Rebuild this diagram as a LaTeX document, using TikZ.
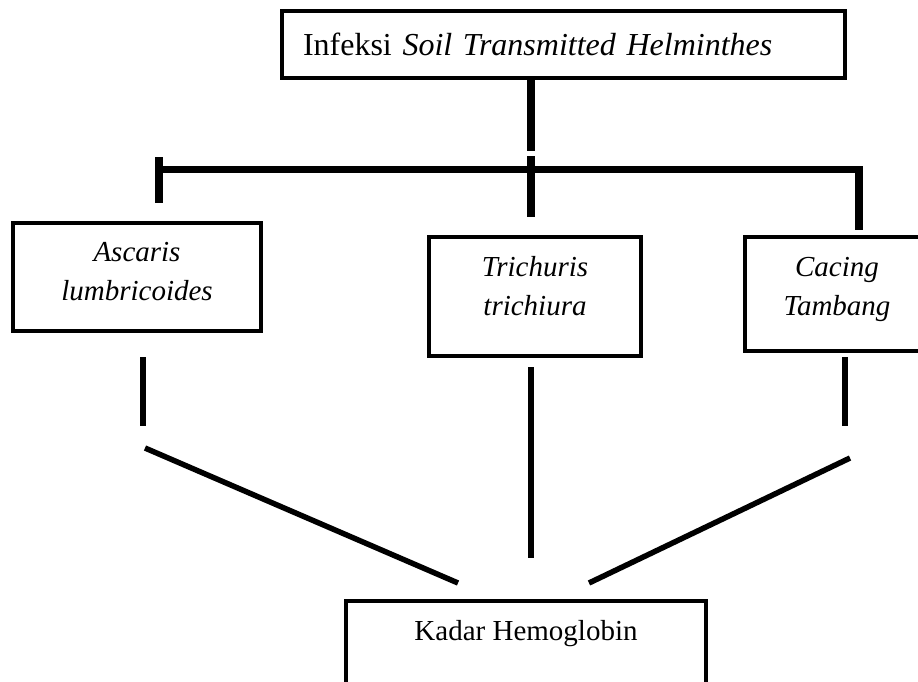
\documentclass[tikz,border=0pt]{standalone}
\usepackage{fontspec}
\setmainfont{Liberation Serif}
\usetikzlibrary{positioning}

\begin{document}
\begin{tikzpicture}[x=1pt,y=-1pt]
       \tikzstyle{box}=[draw, line width=4.5pt, inner sep=0pt, anchor=base, align=center,
                        font=\fontsize{29}{38.5}\selectfont\itshape]
       \tikzstyle{trunk}=[line width=7.5pt]
       \tikzstyle{branch}=[line width=5.5pt]

       \useasboundingbox (0,0) rectangle (918,681);
       \clip (0,0) rectangle (918,681);

       % base = baseline of the last text line
       \node[box, text width=521pt, inner xsep=21pt, align=left, text height=44pt, text depth=23pt,
             font=\fontsize{32}{38}\selectfont] (infeksi) at (563.5,55) {Infeksi \textit{Soil Transmitted Helminthes}};
       \node[box, minimum width=248pt, text height=77pt, text depth=31pt] (ascaris)   at (137,300) {Ascaris\\lumbricoides};
       \node[box, minimum width=212pt, text height=78pt, text depth=41pt] (trichuris) at (535,315) {Trichuris\\trichiura};
       \node[box, minimum width=184pt, text height=78pt, text depth=36pt] (cacing)    at (837,315) {Cacing\\Tambang};
       \node[box, minimum width=360pt, text height=39pt, text depth=70pt, font=\fontsize{29}{38.5}\selectfont]
             (kadar) at (526,640) {Kadar Hemoglobin};

       % free ends of the connectors
       \coordinate (stem_a) at (531,151);
       \coordinate (stem_b) at (531,156);
       \coordinate (stem_c) at (531,217);
       \coordinate (bar_l)  at (159,169.5);
       \coordinate (bar_r)  at (859,169.5);
       \coordinate (tick_t) at (159,157);
       \coordinate (tick_b) at (159,203);
       \coordinate (drop_r) at (859,230);
       \coordinate (asc_t)  at (143,357);
       \coordinate (asc_b)  at (143,426);
       \coordinate (tri_t)  at (531,367);
       \coordinate (tri_b)  at (531,558);
       \coordinate (cac_t)  at (845,357);
       \coordinate (cac_b)  at (845,426);
       \coordinate (diag_l) at (145,448);
       \coordinate (end_l)  at (458,583);
       \coordinate (diag_r) at (850,458);
       \coordinate (end_r)  at (589,583);

       \draw[trunk] (infeksi.south -| stem_a) -- (stem_a);
       \draw[trunk] (stem_b) -- (stem_c);
       \draw[trunk] (bar_l) -- (bar_r) -- (drop_r);
       \draw[trunk] (tick_t) -- (tick_b);

       \path[branch]
       (asc_t)  edge (asc_b)
       (tri_t)  edge (tri_b)
       (cac_t)  edge (cac_b)
       (diag_l) edge (end_l)
       (diag_r) edge (end_r);
     \end{tikzpicture}
\end{document}
